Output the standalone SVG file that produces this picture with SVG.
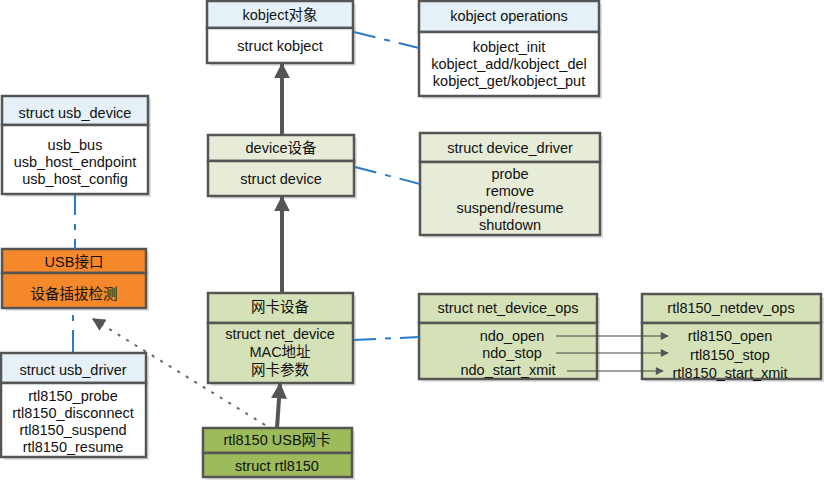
<svg xmlns="http://www.w3.org/2000/svg" width="824" height="482" viewBox="0 0 824 482">
<defs>
<style>
.box{stroke:#555;stroke-width:2.5}
.sh{fill:#000;opacity:0.12}
.t{font-family:"Liberation Sans",Arial,"Noto Sans CJK SC",sans-serif;font-size:14.5px;fill:#111;text-anchor:middle}
.blue{fill:#e5f1f6}.white{fill:#fff}.lg{fill:#e6ecd7}.mg{fill:#d5e2b7}.og{fill:#f5882b}.dg{fill:#9dbb5a}
.dd{stroke:#2b7cc4;stroke-width:2;fill:none;stroke-dasharray:22 9 6 9}
.inh{stroke:#555;stroke-width:4;fill:none}
.thin{stroke:#444;stroke-width:1;fill:none}
</style>
<marker id="big" viewBox="0 0 10 10" refX="9" refY="5" markerWidth="4" markerHeight="4" orient="auto" markerUnits="strokeWidth"><path d="M0,0L10,5L0,10z" fill="#555"/></marker>
<marker id="sm" viewBox="0 0 10 10" refX="9" refY="5" markerWidth="10" markerHeight="8" orient="auto" markerUnits="userSpaceOnUse"><path d="M0,0L10,5L0,10z" fill="#555"/></marker>
<marker id="dot" viewBox="0 0 10 10" refX="9" refY="5" markerWidth="14" markerHeight="13" orient="auto" markerUnits="userSpaceOnUse"><path d="M0,0L10,5L0,10z" fill="#555"/></marker>
</defs>

<g id="kobject">
<rect class="sh" x="210" y="4" width="146" height="62"/>
<rect class="box blue" x="207" y="1" width="146" height="27"/>
<rect class="box white" x="207" y="28" width="146" height="35"/>
<text class="t" x="280" y="20">kobject对象</text>
<text class="t" x="280" y="51">struct kobject</text>
</g>

<g id="kobject_ops">
<rect class="sh" x="422" y="4" width="180" height="95"/>
<rect class="box blue" x="419" y="1" width="180" height="31"/>
<rect class="box white" x="419" y="32" width="180" height="64"/>
<text class="t" x="509" y="21">kobject operations</text>
<text class="t" x="509" y="52">kobject_init</text>
<text class="t" x="509" y="69">kobject_add/kobject_del</text>
<text class="t" x="509" y="86">kobject_get/kobject_put</text>
</g>

<g id="device">
<rect class="sh" x="211" y="138" width="146" height="61"/>
<rect class="box lg" x="208" y="135" width="146" height="26"/>
<rect class="box lg" x="208" y="161" width="146" height="35"/>
<text class="t" x="281" y="153">device设备</text>
<text class="t" x="281" y="184">struct device</text>
</g>

<g id="device_driver">
<rect class="sh" x="423" y="136" width="180" height="102"/>
<rect class="box lg" x="420" y="133" width="180" height="29"/>
<rect class="box lg" x="420" y="162" width="180" height="73"/>
<text class="t" x="510" y="153">struct device_driver</text>
<text class="t" x="510" y="179">probe</text>
<text class="t" x="510" y="196">remove</text>
<text class="t" x="510" y="213">suspend/resume</text>
<text class="t" x="510" y="230">shutdown</text>
</g>

<g id="usb_device">
<rect class="sh" x="5" y="99" width="146" height="98"/>
<rect class="box blue" x="2" y="96" width="146" height="29"/>
<rect class="box white" x="2" y="125" width="146" height="69"/>
<text class="t" x="75" y="118">struct usb_device</text>
<text class="t" x="75" y="150">usb_bus</text>
<text class="t" x="75" y="167">usb_host_endpoint</text>
<text class="t" x="75" y="184">usb_host_config</text>
</g>

<g id="usb_if">
<rect class="sh" x="5" y="252" width="144" height="59"/>
<rect class="box og" x="2" y="249" width="144" height="24"/>
<rect class="box og" x="2" y="273" width="144" height="35"/>
<text class="t" x="74" y="267">USB接口</text>
<text class="t" x="74" y="299">设备插拔检测</text>
</g>

<g id="usb_driver">
<rect class="sh" x="4" y="356" width="145" height="104"/>
<rect class="box blue" x="1" y="353" width="145" height="30"/>
<rect class="box white" x="1" y="383" width="145" height="74"/>
<text class="t" x="73" y="375">struct usb_driver</text>
<text class="t" x="73" y="401">rtl8150_probe</text>
<text class="t" x="73" y="418">rtl8150_disconnect</text>
<text class="t" x="73" y="435">rtl8150_suspend</text>
<text class="t" x="73" y="452">rtl8150_resume</text>
</g>

<g id="net_device">
<rect class="sh" x="211" y="296" width="145" height="90"/>
<rect class="box mg" x="208" y="293" width="145" height="30"/>
<rect class="box mg" x="208" y="323" width="145" height="60"/>
<text class="t" x="280" y="312">网卡设备</text>
<text class="t" x="280" y="339">struct net_device</text>
<text class="t" x="280" y="357">MAC地址</text>
<text class="t" x="280" y="375">网卡参数</text>
</g>

<g id="rtl8150">
<rect class="sh" x="206" y="431" width="149" height="49"/>
<rect class="box dg" x="203" y="428" width="149" height="25"/>
<rect class="box dg" x="203" y="453" width="149" height="24"/>
<text class="t" x="277" y="445">rtl8150 USB网卡</text>
<text class="t" x="277" y="471">struct rtl8150</text>
</g>

<g id="net_device_ops">
<rect class="sh" x="422" y="297" width="178" height="85"/>
<rect class="box mg" x="419" y="294" width="178" height="29"/>
<rect class="box mg" x="419" y="323" width="178" height="56"/>
<text class="t" x="508" y="313">struct net_device_ops</text>
<text class="t" x="512" y="341">ndo_open</text>
<text class="t" x="512" y="358">ndo_stop</text>
<text class="t" x="508" y="375">ndo_start_xmit</text>
</g>

<g id="rtl8150_netdev_ops">
<rect class="sh" x="645" y="297" width="179" height="85"/>
<rect class="box mg" x="642" y="294" width="179" height="29"/>
<rect class="box mg" x="642" y="323" width="179" height="56"/>
<text class="t" x="731" y="313">rtl8150_netdev_ops</text>
<text class="t" x="730" y="341">rtl8150_open</text>
<text class="t" x="730" y="360">rtl8150_stop</text>
<text class="t" x="730" y="378">rtl8150_start_xmit</text>
</g>

<g id="connectors">
<line class="dd" x1="354" y1="32" x2="419" y2="48"/>
<line class="dd" x1="355" y1="167" x2="420" y2="184"/>
<line class="dd" x1="354" y1="340" x2="419" y2="337"/>
<line class="dd" x1="75" y1="195" x2="75" y2="249" style="stroke-dasharray:20 9 6 9"/>
<line class="dd" x1="73" y1="352" x2="73" y2="309" style="stroke-dasharray:22 9 6 9"/>
<line class="inh" x1="282" y1="135" x2="282" y2="64" marker-end="url(#big)"/>
<line class="inh" x1="282" y1="293" x2="282" y2="197" marker-end="url(#big)"/>
<line class="inh" x1="277" y1="428" x2="280" y2="384" marker-end="url(#big)"/>
<line x1="265" y1="425" x2="93" y2="319" stroke="#666" stroke-width="2" stroke-dasharray="3 7" marker-end="url(#dot)"/>
<line class="thin" x1="556" y1="336" x2="668" y2="336" marker-end="url(#sm)"/>
<line class="thin" x1="556" y1="353" x2="668" y2="353" marker-end="url(#sm)"/>
<line class="thin" x1="567" y1="371" x2="663" y2="371" marker-end="url(#sm)"/>
</g>
</svg>
